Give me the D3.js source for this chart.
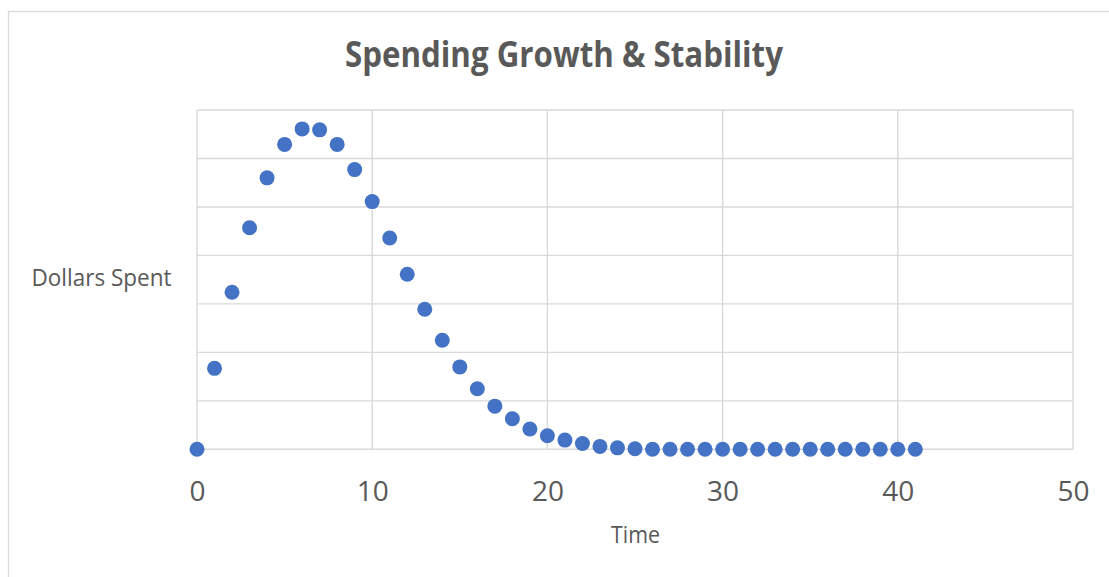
<!DOCTYPE html>
<html>
<head>
<meta charset="utf-8">
<script src="https://cdn.jsdelivr.net/npm/d3@7/dist/d3.min.js"></script>
<style>
  html, body { margin: 0; padding: 0; background: #fff; }
  svg { display: block; }
  text { font-family: "Open Sans", "Noto Sans", sans-serif; fill: #595959; }
</style>
</head>
<body>
<svg id="chart" width="1109" height="577"></svg>
<script>
// Time periods and dollars spent in each period
const time = [0,1,2,3,4,5,6,7,8,9,10,11,12,13,14,15,16,17,18,19,20,
              21,22,23,24,25,26,27,28,29,30,31,32,33,34,35,36,37,38,39,40,41];
const dollars = [0, 16.7, 32.4, 45.7, 56.0, 62.9, 66.1, 65.9, 62.9, 57.7, 51.1,
                 43.6, 36.1, 28.9, 22.5, 17.0, 12.5, 8.9, 6.3, 4.2, 2.8,
                 1.9, 1.2, 0.6, 0.3, 0.1, 0, 0, 0, 0, 0,
                 0, 0, 0, 0, 0, 0, 0, 0, 0, 0, 0];
const xTicks = [0, 10, 20, 30, 40, 50];
const yGrid = [0, 10, 20, 30, 40, 50, 60, 70];

const titleText = "Spending Growth & Stability";
const xTitle = "Time";
const yTitle = "Dollars Spent";

const svg = d3.select("#chart");
const grid = "#d9d9d9";

// outer chart frame
svg.append("rect")
  .attr("x", 8.5).attr("y", 11.5)
  .attr("width", 1112).attr("height", 600)
  .attr("fill", "#fff").attr("stroke", grid).attr("stroke-width", 1.3);

const plot = { left: 197, right: 1073, top: 110, bottom: 449.3 };

const x = d3.scaleLinear().domain([0, 50]).range([plot.left, plot.right]);
const y = d3.scaleLinear().domain([0, 70]).range([plot.bottom, plot.top]);

// horizontal gridlines
svg.append("g").selectAll("line").data(yGrid).join("line")
  .attr("x1", plot.left).attr("x2", plot.right)
  .attr("y1", d => y(d)).attr("y2", d => y(d))
  .attr("stroke", grid).attr("stroke-width", 1.4);

// vertical gridlines
svg.append("g").selectAll("line").data(xTicks).join("line")
  .attr("x1", d => x(d)).attr("x2", d => x(d))
  .attr("y1", plot.top).attr("y2", plot.bottom)
  .attr("stroke", grid).attr("stroke-width", 1.4);

// x axis labels
const xAxis = d3.axisBottom(x).tickValues(xTicks).tickSize(0).tickPadding(0);
const gx = svg.append("g").attr("transform", `translate(0,${plot.bottom})`).call(xAxis);
gx.select(".domain").remove();
gx.selectAll("text")
  .attr("dy", null).attr("y", 52)
  .style("font-size", "28px").style("fill", "#595959")
  .style("font-family", '"Open Sans", sans-serif');

// data points
svg.append("g").selectAll("circle").data(time).join("circle")
  .attr("cx", (d) => x(d))
  .attr("cy", (d, i) => y(dollars[i]))
  .attr("r", 7.5)
  .attr("fill", "#4472c4");

// titles
svg.append("text")
  .attr("x", 564).attr("y", 67)
  .attr("text-anchor", "middle")
  .attr("textLength", 438).attr("lengthAdjust", "spacingAndGlyphs")
  .style("font-size", "35px").style("font-weight", "bold")
  .text(titleText);

svg.append("text")
  .attr("x", 635.5).attr("y", 543)
  .attr("text-anchor", "middle")
  .attr("textLength", 49).attr("lengthAdjust", "spacingAndGlyphs")
  .style("font-size", "23px")
  .text(xTitle);

svg.append("text")
  .attr("x", 101.5).attr("y", 286)
  .attr("text-anchor", "middle")
  .attr("textLength", 140).attr("lengthAdjust", "spacingAndGlyphs")
  .style("font-size", "24px")
  .text(yTitle);
</script>
</body>
</html>
